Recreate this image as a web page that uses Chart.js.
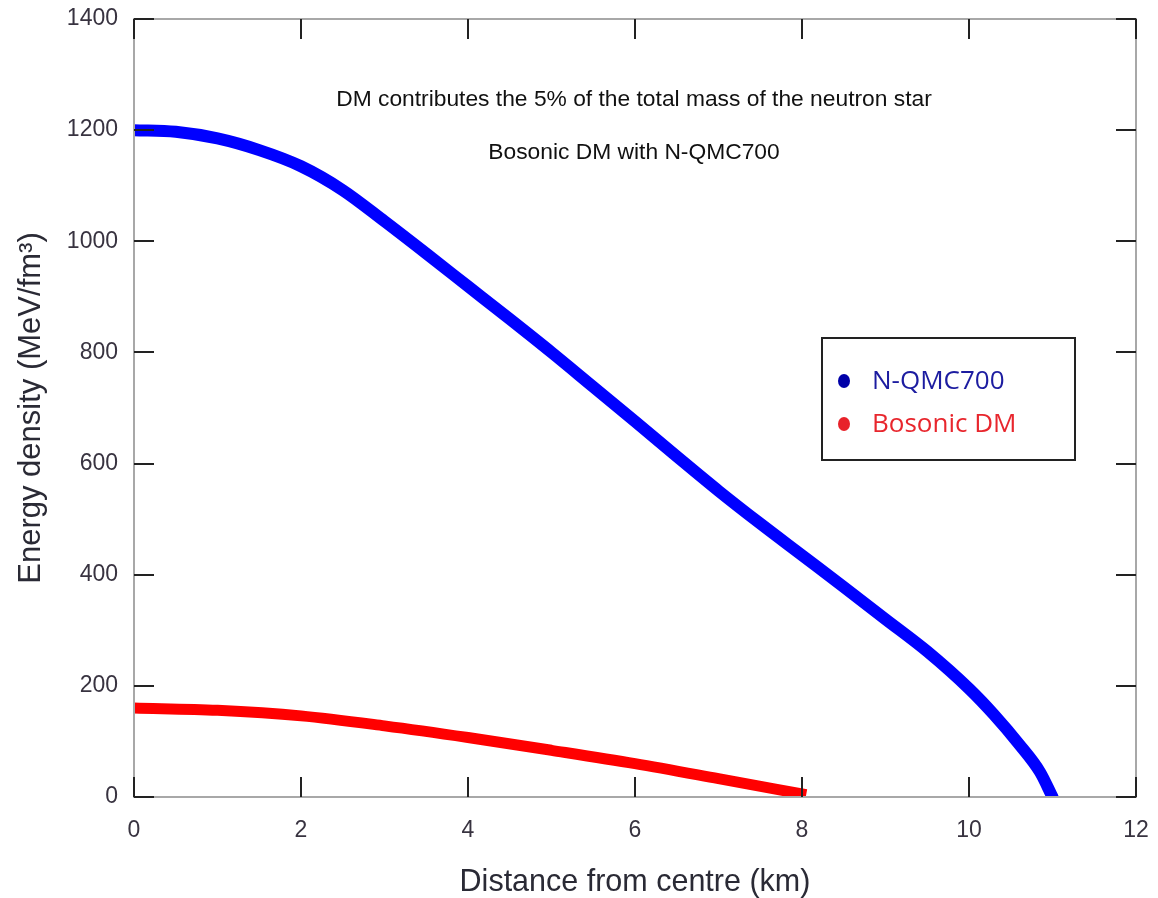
<!DOCTYPE html>
<html lang="en">
<head>
    <meta charset="UTF-8">
    <title>Energy density profile</title>
    <style>
        html, body {
            margin: 0;
            padding: 0;
            background-color: #ffffff;
        }

        #wrap {
            position: relative;
            width: 1158px;
            height: 898px;
        }

        #densityChart {
            display: block;
        }
    </style>
    <script src="https://cdn.jsdelivr.net/npm/chart.js"></script>
</head>
<body>
    <div id="wrap">
        <canvas id="densityChart" width="1158" height="898"></canvas>
    </div>

    <script>
        // radius (km) and energy density (MeV/fm^3) for each profile
        const nsRadius = [0, 0.5, 1, 1.5, 2, 2.5, 3, 3.5, 4, 4.5, 5, 5.5, 6, 6.5, 7, 7.5, 8, 8.5, 9, 9.5, 10, 10.3, 10.6, 10.85, 11];
        const nsDensity = [1200, 1197, 1185, 1164, 1135, 1092, 1036, 978, 919, 860, 800, 738, 676, 613, 551, 492, 435, 378, 320, 262, 195, 148, 95, 45, 0];

        const dmRadius = [0, 1, 2, 3, 4, 5, 6, 7, 8.05];
        const dmDensity = [160, 156, 146, 128, 107, 84, 60, 33, 4];

        const xTicks = [0, 2, 4, 6, 8, 10, 12];
        const yTicks = [0, 200, 400, 600, 800, 1000, 1200, 1400];

        const noteLines = [
            'DM contributes the 5% of the total mass of the neutron star',
            'Bosonic DM with N-QMC700'
        ];

        const legendItems = [
            { text: 'N-QMC700', dot: '#0000a8', color: '#1c1ca0' },
            { text: 'Bosonic DM', dot: '#e8222a', color: '#e8262d' }
        ];

        const toPoints = (xs, ys) => xs.map((x, i) => ({ x: x, y: ys[i] }));

        // gray frame + inward ticks on all four sides, notes and boxed legend
        const framePlugin = {
            id: 'frame',
            afterDatasetsDraw(chart) {
                const { ctx, chartArea: a, scales } = chart;
                const tick = 20;
                ctx.save();
                ctx.strokeStyle = '#a8a8a8';
                ctx.lineWidth = 2;
                ctx.strokeRect(a.left, a.top, a.right - a.left, a.bottom - a.top);

                ctx.strokeStyle = '#222';
                ctx.lineWidth = 2;
                ctx.beginPath();
                xTicks.forEach(v => {
                    const px = Math.round(scales.x.getPixelForValue(v));
                    ctx.moveTo(px, a.bottom);
                    ctx.lineTo(px, a.bottom - tick);
                    ctx.moveTo(px, a.top);
                    ctx.lineTo(px, a.top + tick);
                });
                yTicks.forEach(v => {
                    const py = Math.round(scales.y.getPixelForValue(v));
                    ctx.moveTo(a.left, py);
                    ctx.lineTo(a.left + tick, py);
                    ctx.moveTo(a.right, py);
                    ctx.lineTo(a.right - tick, py);
                });
                ctx.stroke();

                // notes
                ctx.fillStyle = '#111';
                ctx.textAlign = 'center';
                ctx.textBaseline = 'middle';
                ctx.font = '22.8px "Liberation Sans", Arial, sans-serif';
                ctx.fillText(noteLines[0], 634, 100);
                ctx.fillText(noteLines[1], 634, 153);

                // legend box
                const bx = 822, by = 338, bw = 253, bh = 122;
                ctx.fillStyle = '#fff';
                ctx.fillRect(bx, by, bw, bh);
                ctx.strokeStyle = '#222';
                ctx.lineWidth = 2;
                ctx.strokeRect(bx, by, bw, bh);

                ctx.textAlign = 'left';
                ctx.font = '26px "Open Sans", "Noto Sans", sans-serif';
                legendItems.forEach((item, i) => {
                    const cy = 381 + i * 43;
                    ctx.fillStyle = item.dot;
                    ctx.beginPath();
                    ctx.ellipse(844, cy, 6, 7, 0, 0, Math.PI * 2);
                    ctx.fill();
                    ctx.fillStyle = item.color;
                    ctx.fillText(item.text, 872, cy + 1);
                });
                ctx.restore();
            }
        };

        const tickFont = { family: '"Liberation Sans", Arial, sans-serif', size: 23 };

        const ctx = document.getElementById('densityChart').getContext('2d');
        new Chart(ctx, {
            type: 'scatter',
            data: {
                datasets: [
                    {
                        label: 'N-QMC700',
                        data: toPoints(nsRadius, nsDensity),
                        showLine: true,
                        borderColor: '#0000ff',
                        borderWidth: 12,
                        pointRadius: 0,
                        cubicInterpolationMode: 'monotone',
                        borderCapStyle: 'round',
                        borderJoinStyle: 'round'
                    },
                    {
                        label: 'Bosonic DM',
                        data: toPoints(dmRadius, dmDensity),
                        showLine: true,
                        borderColor: '#ff0000',
                        borderWidth: 11,
                        pointRadius: 0,
                        cubicInterpolationMode: 'monotone',
                        borderCapStyle: 'butt'
                    }
                ]
            },
            options: {
                responsive: false,
                animation: false,
                layout: { padding: { top: 19, right: 22, left: 0, bottom: 0 } },
                scales: {
                    x: {
                        type: 'linear',
                        min: 0,
                        max: 12,
                        afterBuildTicks: s => { s.ticks = xTicks.map(v => ({ value: v })); },
                        afterFit: s => { s.height = 101; s.paddingLeft = 0; s.paddingRight = 0; },
                        grid: { display: false, drawTicks: false },
                        border: { display: false },
                        ticks: {
                            color: '#383340',
                            padding: 20,
                            font: tickFont,
                            callback: v => String(v)
                        },
                        title: {
                            display: true,
                            text: 'Distance from centre (km)',
                            color: '#2a2a35',
                            padding: { top: 15, bottom: -3 },
                            font: { family: '"Liberation Sans", Arial, sans-serif', size: 30.5 }
                        }
                    },
                    y: {
                        type: 'linear',
                        min: 0,
                        max: 1400,
                        afterBuildTicks: s => { s.ticks = yTicks.map(v => ({ value: v })); },
                        afterFit: s => { s.width = 134; s.paddingTop = 0; s.paddingBottom = 0; },
                        grid: { display: false, drawTicks: false },
                        border: { display: false },
                        ticks: {
                            color: '#383340',
                            padding: 16,
                            font: tickFont,
                            callback: v => String(v)
                        },
                        title: {
                            display: true,
                            text: 'Energy density (MeV/fm³)',
                            color: '#2a2a35',
                            padding: { top: 13, bottom: 0 },
                            font: { family: '"Liberation Sans", Arial, sans-serif', size: 31 }
                        }
                    }
                },
                plugins: {
                    legend: { display: false },
                    tooltip: { enabled: false }
                }
            },
            plugins: [framePlugin]
        });
    </script>
</body>
</html>
